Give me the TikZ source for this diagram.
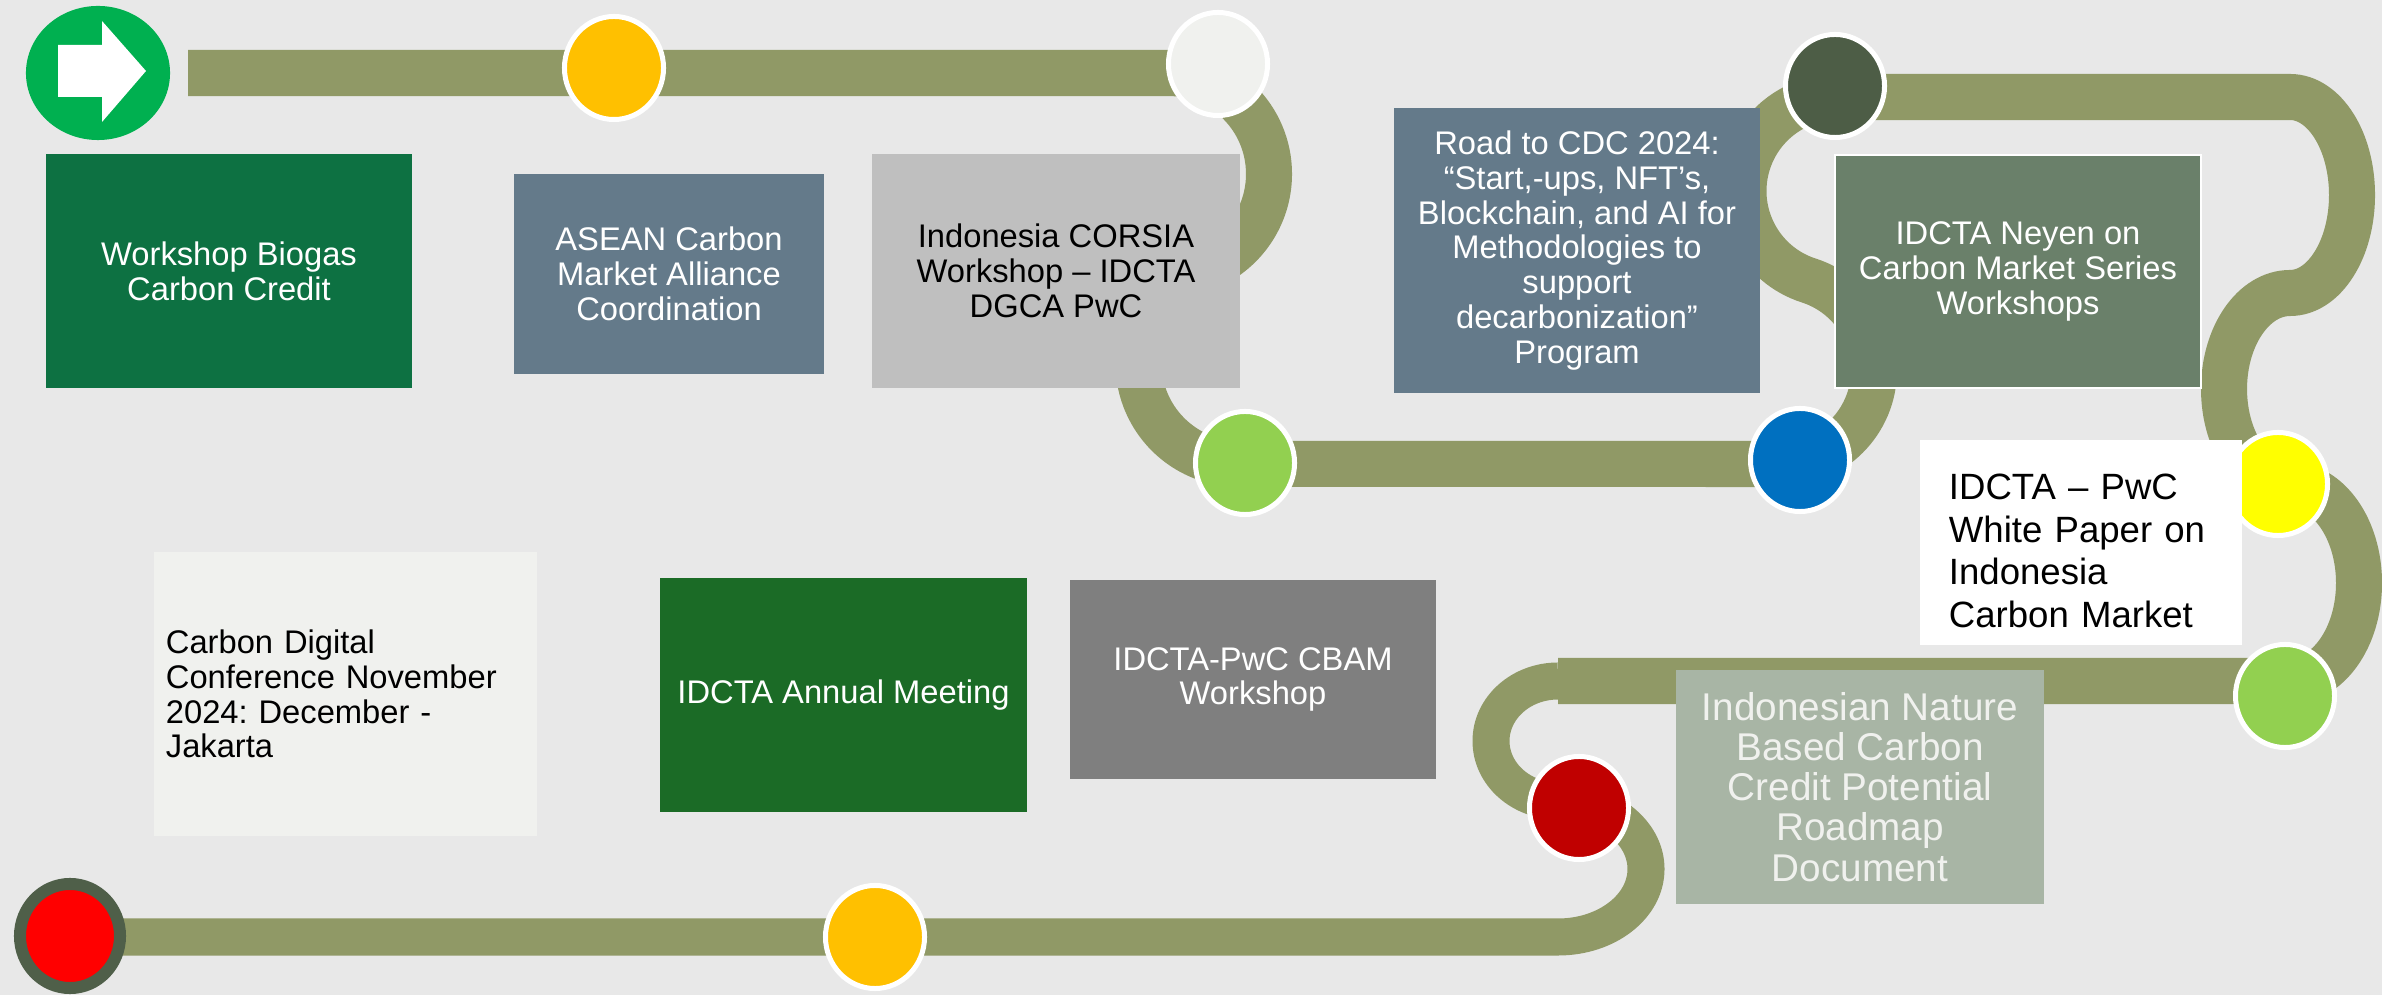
\documentclass[tikz,border=0pt]{standalone}
\usepackage{fontspec}
\setmainfont{Liberation Sans}
\usetikzlibrary{shapes.geometric}
\frenchspacing

\definecolor{bgc}{RGB}{232,232,232}
\definecolor{roadc}{RGB}{144,153,102}
\definecolor{startgreen}{RGB}{0,176,80}
\definecolor{amber}{RGB}{255,192,0}
\definecolor{offwhite}{RGB}{240,241,238}
\definecolor{lime}{RGB}{146,208,80}
\definecolor{blueish}{RGB}{0,112,192}
\definecolor{forest}{RGB}{77,93,70}
\definecolor{yell}{RGB}{255,255,0}
\definecolor{darkred}{RGB}{192,0,0}
\definecolor{ringgreen}{RGB}{79,95,73}
\definecolor{boxgreen}{RGB}{13,113,66}
\definecolor{slate}{RGB}{100,122,138}
\definecolor{silver}{RGB}{191,191,191}
\definecolor{sage}{RGB}{106,128,106}
\definecolor{palesage}{RGB}{168,181,165}
\definecolor{midgrey}{RGB}{127,127,127}
\definecolor{leafgreen}{RGB}{27,107,38}

\begin{document}
\begin{tikzpicture}[x=0.01cm, y=-0.01cm,
    road/.style={draw=roadc, line width=0.46cm},
    roadthin/.style={draw=roadc, line width=0.37cm},
    stopdot/.style={ellipse, draw=white, line width=0.05cm, minimum width=0.99cm, minimum height=1.03cm, inner sep=0pt},
    panel/.style={rectangle, inner sep=0pt, align=center, text=white, font=\fontsize{9.3}{9.9}\selectfont}]

    \fill[bgc] (0,0) rectangle (2382,995);
    \useasboundingbox (0,0) rectangle (2382,995);

    %road
    \draw[road] (188,73) -- (1168,73)
        arc[start angle=-90, end angle=69.3, radius=101]
        arc[start angle=249.3, end angle=90, radius=101]
        -- (1780,464)
        arc[start angle=90, end angle=-72.2, radius=94]
        arc[start angle=107.8, end angle=270, radius=94]
        -- (2290,97)
        arc[start angle=-90, end angle=90, x radius=62, y radius=98]
        arc[start angle=270, end angle=90, x radius=66, y radius=96]
        arc[start angle=-90, end angle=90, x radius=69, y radius=98]
        -- (1558,681);
    \draw[roadthin] (1558,681)
        arc[start angle=270, end angle=90, x radius=67, y radius=60]
        arc[start angle=-90, end angle=90, x radius=88, y radius=68]
        -- (70,937);

    %stops
    \node[ellipse, fill=startgreen, minimum width=1.44cm, minimum height=1.34cm, inner sep=0pt] (start) at (98,73) {};
    \fill[white] (58,45) -- (102,45) -- (102,21) -- (146,71) -- (102,122) -- (102,97) -- (58,97) -- cycle;
    \node[stopdot, fill=amber] (s1) at (614,68) {};
    \node[stopdot, fill=offwhite] (s2) at (1218,64) {};
    \node[stopdot, fill=lime] (s3) at (1245,463) {};
    \node[stopdot, fill=blueish] (s4) at (1800,460) {};
    \node[stopdot, fill=forest] (s5) at (1835,86) {};
    \node[stopdot, fill=yell] (s6) at (2278,484) {};
    \node[stopdot, fill=lime] (s7) at (2285,696) {};
    \node[stopdot, fill=darkred] (s8) at (1579,808) {};
    \node[stopdot, fill=amber] (s9) at (875,937) {};
    \node[ellipse, fill=red, draw=ringgreen, line width=0.12cm, minimum width=1.0cm, minimum height=1.04cm, inner sep=0pt] (finish) at (70,936) {};

    %panels
    \node[panel, fill=boxgreen, minimum width=3.66cm, minimum height=2.34cm] (biogas) at (229,271)
        {Workshop Biogas\\Carbon Credit};
    \node[panel, fill=slate, minimum width=3.10cm, minimum height=2.00cm] (asean) at (669,274)
        {ASEAN Carbon\\Market Alliance\\Coordination};
    \node[panel, fill=silver, text=black, minimum width=3.68cm, minimum height=2.34cm] (corsia) at (1056,271)
        {Indonesia CORSIA\\Workshop – IDCTA\\DGCA PwC};
    \node[panel, fill=slate, minimum width=3.66cm, minimum height=2.85cm] (road) at (1577,250.5)
        {Road to CDC 2024:\\“Start,-ups, NFT’s,\\Blockchain, and AI for\\Methodologies to\\support\\decarbonization”\\Program};
    \node[panel, fill=sage, draw=white, line width=0.4pt, minimum width=3.66cm, minimum height=2.33cm] (neyen) at (2018,271.5)
        {IDCTA Neyen on\\Carbon Market Series\\Workshops};
    \node[panel, fill=white, text=black, align=left, inner xsep=0.29cm, text width=2.64cm, minimum height=2.05cm,
        font=\fontsize{10.4}{12.1}\selectfont] (paper) at (2081,542.5)
        {\rule{0pt}{0.42cm}IDCTA – PwC\\White Paper on\\Indonesia\\Carbon Market};
    \node[panel, fill=palesage, text=offwhite, minimum width=3.68cm, minimum height=2.34cm,
        font=\fontsize{11}{11.4}\selectfont] (nature) at (1860,787)
        {Indonesian Nature\\Based Carbon\\Credit Potential\\Roadmap\\Document};
    \node[panel, fill=midgrey, minimum width=3.66cm, minimum height=1.99cm] (cbam) at (1253,679.5)
        {IDCTA-PwC CBAM\\Workshop};
    \node[panel, fill=leafgreen, minimum width=3.67cm, minimum height=2.34cm] (annual) at (843.5,695)
        {IDCTA Annual Meeting};
    \node[panel, fill=offwhite, text=black, align=left, inner xsep=0.12cm, text width=3.59cm, minimum height=2.84cm] (cdc) at (345.5,694)
        {Carbon Digital\\Conference November\\2024: December -\\Jakarta};
\end{tikzpicture}
\end{document}
